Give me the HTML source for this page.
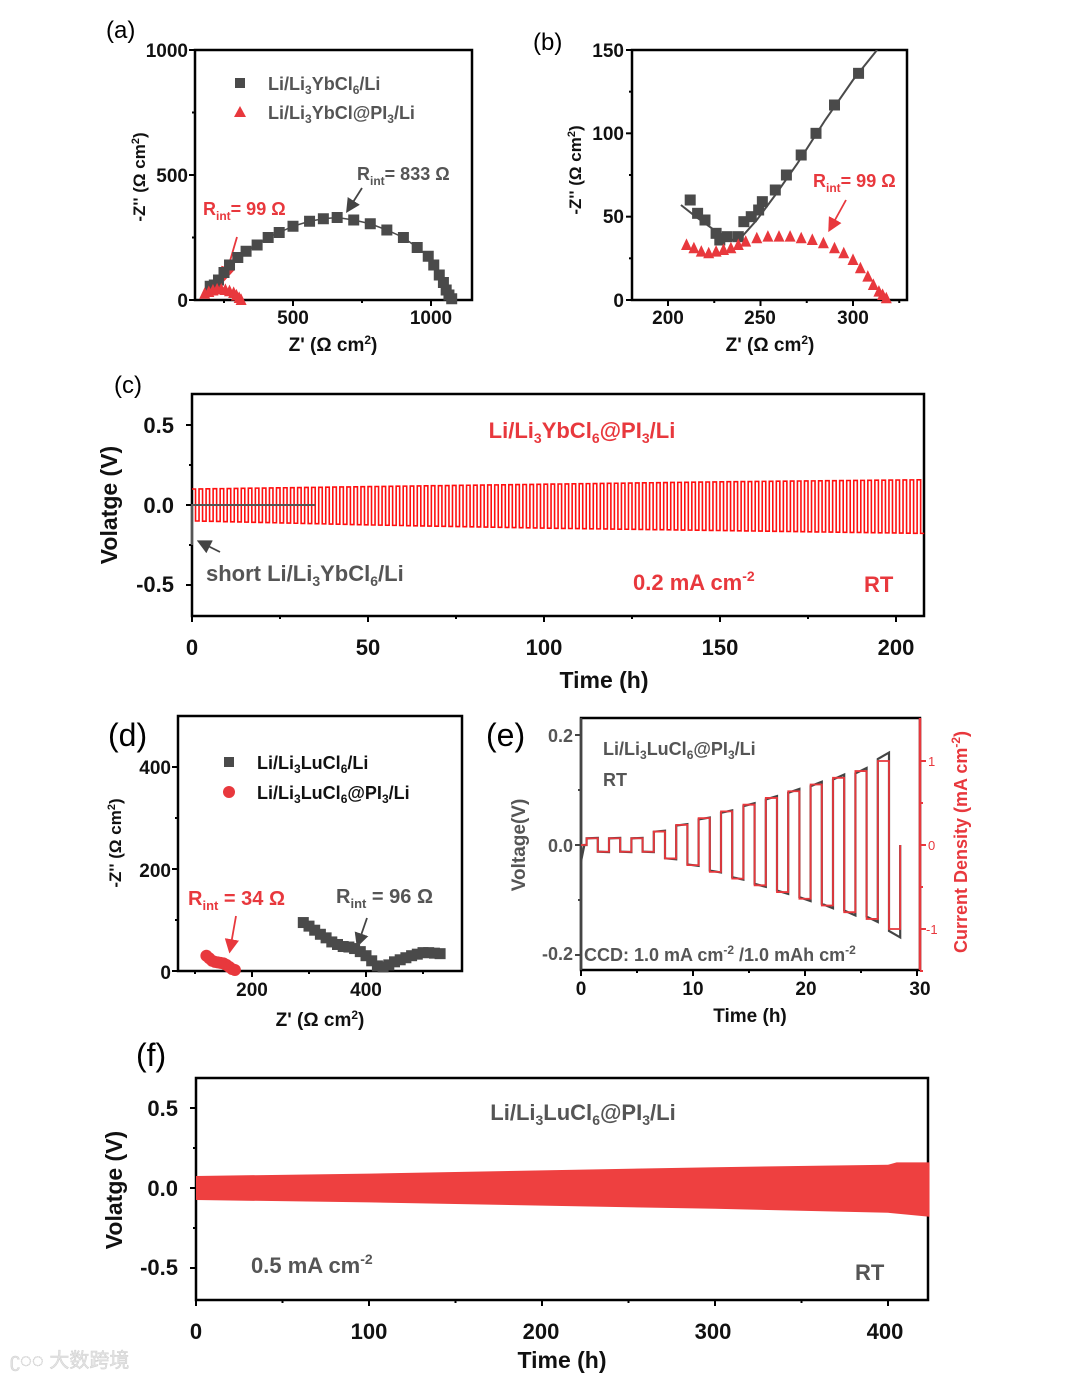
<!DOCTYPE html>
<html><head><meta charset="utf-8"><style>
html,body{margin:0;padding:0;background:#fff;}
svg{display:block;font-family:"Liberation Sans","Noto Sans CJK SC",sans-serif;}
.t{font-weight:bold;fill:#111;}
.g{fill:#555;font-weight:bold;}
.r{fill:#e8383d;font-weight:bold;}
</style></head><body>
<svg id="fig" width="1080" height="1379" viewBox="0 0 1080 1379" font-size="19">
<defs>
<marker id="ag" markerWidth="8" markerHeight="8" refX="6" refY="4" orient="auto"><path d="M0,0 L8,4 L0,8 z" fill="#444"/></marker>
<marker id="ar" markerWidth="8" markerHeight="8" refX="6" refY="4" orient="auto"><path d="M0,0 L8,4 L0,8 z" fill="#e8383d"/></marker>
</defs>
<text x="106" y="38" font-size="24">(a)</text>
<text x="533" y="50" font-size="24">(b)</text>
<text x="114" y="393" font-size="24">(c)</text>
<text x="108" y="746" font-size="32">(d)</text>
<text x="486" y="746" font-size="32">(e)</text>
<text x="136" y="1066" font-size="32">(f)</text>

<g>
<text class="t" x="188" y="57" text-anchor="end">1000</text>
<text class="t" x="188" y="182" text-anchor="end">500</text>
<text class="t" x="188" y="307" text-anchor="end">0</text>
<text class="t" x="293" y="324" text-anchor="middle">500</text>
<text class="t" x="431" y="324" text-anchor="middle">1000</text>
<text class="t" x="333" y="351" text-anchor="middle">Z' (Ω cm<tspan font-size="12" dy="-7">2</tspan><tspan dy="7">)</tspan></text>
<text class="t" transform="translate(145,177) rotate(-90)" text-anchor="middle" font-size="17">-Z'' (Ω cm<tspan font-size="11" dy="-6">2</tspan><tspan dy="6">)</tspan></text>
<rect x="235" y="78" width="10" height="10" fill="#4a4a4a"/>
<text class="g" x="268" y="90" font-size="18">Li/Li<tspan font-size="12" dy="4">3</tspan><tspan dy="-4">YbCl</tspan><tspan font-size="12" dy="4">6</tspan><tspan dy="-4">/Li</tspan></text>
<path d="M240,106 L246,117 L234,117 z" fill="#e8383d"/>
<text class="g" x="268" y="119" font-size="18">Li/Li<tspan font-size="12" dy="4">3</tspan><tspan dy="-4">YbCl@PI</tspan><tspan font-size="12" dy="4">3</tspan><tspan dy="-4">/Li</tspan></text>
<text class="g" x="357" y="180" font-size="18">R<tspan font-size="12" dy="5">int</tspan><tspan dy="-5">= 833 Ω</tspan></text>
<line x1="362" y1="188" x2="348" y2="210" stroke="#444" stroke-width="1.8" marker-end="url(#ag)"/>
<text class="r" x="203" y="215" font-size="18">R<tspan font-size="12" dy="5">int</tspan><tspan dy="-5">= 99 Ω</tspan></text>
<line x1="237" y1="237" x2="225" y2="278" stroke="#e8383d" stroke-width="1.8" marker-end="url(#ar)"/>
</g>

<g>
<text class="t" x="624" y="57" text-anchor="end">150</text>
<text class="t" x="624" y="140" text-anchor="end">100</text>
<text class="t" x="624" y="223" text-anchor="end">50</text>
<text class="t" x="624" y="307" text-anchor="end">0</text>
<text class="t" x="668" y="324" text-anchor="middle">200</text>
<text class="t" x="760" y="324" text-anchor="middle">250</text>
<text class="t" x="853" y="324" text-anchor="middle">300</text>
<text class="t" x="770" y="351" text-anchor="middle">Z' (Ω cm<tspan font-size="12" dy="-7">2</tspan><tspan dy="7">)</tspan></text>
<text class="t" transform="translate(581,170) rotate(-90)" text-anchor="middle" font-size="17">-Z'' (Ω cm<tspan font-size="11" dy="-6">2</tspan><tspan dy="6">)</tspan></text>
<text class="r" x="813" y="187" font-size="18">R<tspan font-size="12" dy="5">int</tspan><tspan dy="-5">= 99 Ω</tspan></text>
<line x1="846" y1="200" x2="830" y2="229" stroke="#e8383d" stroke-width="1.8" marker-end="url(#ar)"/>
</g>

<g>
<text class="t" x="174" y="433" text-anchor="end" font-size="22">0.5</text>
<text class="t" x="174" y="513" text-anchor="end" font-size="22">0.0</text>
<text class="t" x="174" y="592" text-anchor="end" font-size="22">-0.5</text>
<text class="t" x="192" y="655" text-anchor="middle" font-size="22">0</text>
<text class="t" x="368" y="655" text-anchor="middle" font-size="22">50</text>
<text class="t" x="544" y="655" text-anchor="middle" font-size="22">100</text>
<text class="t" x="720" y="655" text-anchor="middle" font-size="22">150</text>
<text class="t" x="896" y="655" text-anchor="middle" font-size="22">200</text>
<text class="t" x="604" y="688" text-anchor="middle" font-size="23">Time (h)</text>
<text class="t" transform="translate(117,505) rotate(-90)" text-anchor="middle" font-size="23">Volatge (V)</text>
<text class="r" x="582" y="438" text-anchor="middle" font-size="22">Li/Li<tspan font-size="14" dy="5">3</tspan><tspan dy="-5">YbCl</tspan><tspan font-size="14" dy="5">6</tspan><tspan dy="-5">@PI</tspan><tspan font-size="14" dy="5">3</tspan><tspan dy="-5">/Li</tspan></text>
<text class="g" x="206" y="581" font-size="22">short  Li/Li<tspan font-size="14" dy="5">3</tspan><tspan dy="-5">YbCl</tspan><tspan font-size="14" dy="5">6</tspan><tspan dy="-5">/Li</tspan></text>
<line x1="220" y1="552" x2="200" y2="542" stroke="#444" stroke-width="1.8" marker-end="url(#ag)"/>
<text class="r" x="633" y="590" font-size="22">0.2 mA cm<tspan font-size="14" dy="-9">-2</tspan></text>
<text class="r" x="864" y="592" font-size="22">RT</text>
</g>

<g>
<text class="t" x="171" y="774" text-anchor="end">400</text>
<text class="t" x="171" y="877" text-anchor="end">200</text>
<text class="t" x="171" y="979" text-anchor="end">0</text>
<text class="t" x="252" y="996" text-anchor="middle">200</text>
<text class="t" x="366" y="996" text-anchor="middle">400</text>
<text class="t" x="320" y="1026" text-anchor="middle">Z' (Ω cm<tspan font-size="12" dy="-7">2</tspan><tspan dy="7">)</tspan></text>
<text class="t" transform="translate(121,843) rotate(-90)" text-anchor="middle" font-size="17">-Z'' (Ω cm<tspan font-size="11" dy="-6">2</tspan><tspan dy="6">)</tspan></text>
<rect x="224" y="757" width="10" height="10" fill="#4a4a4a"/>
<text class="t" x="257" y="769" font-size="18">Li/Li<tspan font-size="12" dy="4">3</tspan><tspan dy="-4">LuCl</tspan><tspan font-size="12" dy="4">6</tspan><tspan dy="-4">/Li</tspan></text>
<circle cx="229" cy="792" r="6" fill="#e8383d"/>
<text class="t" x="257" y="799" font-size="18">Li/Li<tspan font-size="12" dy="4">3</tspan><tspan dy="-4">LuCl</tspan><tspan font-size="12" dy="4">6</tspan><tspan dy="-4">@PI</tspan><tspan font-size="12" dy="4">3</tspan><tspan dy="-4">/Li</tspan></text>
<text class="r" x="188" y="905" font-size="20">R<tspan font-size="13" dy="5">int</tspan><tspan dy="-5"> = 34 Ω</tspan></text>
<line x1="236" y1="916" x2="230" y2="950" stroke="#e8383d" stroke-width="1.8" marker-end="url(#ar)"/>
<text class="g" x="336" y="903" font-size="20">R<tspan font-size="13" dy="5">int</tspan><tspan dy="-5"> = 96 Ω</tspan></text>
<line x1="367" y1="918" x2="358" y2="944" stroke="#444" stroke-width="1.8" marker-end="url(#ag)"/>
</g>

<g>
<text class="g" x="573" y="742" text-anchor="end" font-size="18">0.2</text>
<text class="g" x="573" y="852" text-anchor="end" font-size="18">0.0</text>
<text class="g" x="573" y="960" text-anchor="end" font-size="18">-0.2</text>
<text x="928" y="766" font-size="13" fill="#e8383d">1</text>
<text x="928" y="850" font-size="13" fill="#e8383d">0</text>
<text x="926" y="934" font-size="13" fill="#e8383d">-1</text>
<text class="t" x="581" y="995" text-anchor="middle">0</text>
<text class="t" x="693" y="995" text-anchor="middle">10</text>
<text class="t" x="806" y="995" text-anchor="middle">20</text>
<text class="t" x="920" y="995" text-anchor="middle">30</text>
<text class="t" x="750" y="1022" text-anchor="middle">Time (h)</text>
<text class="g" transform="translate(525,845) rotate(-90)" text-anchor="middle" font-size="19">Voltage(V)</text>
<text class="r" transform="translate(967,842) rotate(-90)" text-anchor="middle" font-size="18">Current Density (mA cm<tspan font-size="12" dy="-7">-2</tspan><tspan dy="7">)</tspan></text>
<text class="g" x="603" y="755" font-size="18">Li/Li<tspan font-size="12" dy="4">3</tspan><tspan dy="-4">LuCl</tspan><tspan font-size="12" dy="4">6</tspan><tspan dy="-4">@PI</tspan><tspan font-size="12" dy="4">3</tspan><tspan dy="-4">/Li</tspan></text>
<text class="g" x="603" y="786" font-size="18">RT</text>
<text class="g" x="584" y="961" font-size="18">CCD: 1.0 mA cm<tspan font-size="12" dy="-7">-2</tspan><tspan dy="7"> /1.0 mAh cm</tspan><tspan font-size="12" dy="-7">-2</tspan></text>
</g>

<g>
<text class="t" x="178" y="1116" text-anchor="end" font-size="22">0.5</text>
<text class="t" x="178" y="1196" text-anchor="end" font-size="22">0.0</text>
<text class="t" x="178" y="1275" text-anchor="end" font-size="22">-0.5</text>
<text class="t" x="196" y="1339" text-anchor="middle" font-size="22">0</text>
<text class="t" x="369" y="1339" text-anchor="middle" font-size="22">100</text>
<text class="t" x="541" y="1339" text-anchor="middle" font-size="22">200</text>
<text class="t" x="713" y="1339" text-anchor="middle" font-size="22">300</text>
<text class="t" x="885" y="1339" text-anchor="middle" font-size="22">400</text>
<text class="t" x="562" y="1368" text-anchor="middle" font-size="23">Time (h)</text>
<text class="t" transform="translate(122,1190) rotate(-90)" text-anchor="middle" font-size="23">Volatge (V)</text>
<text class="g" x="583" y="1120" text-anchor="middle" font-size="22">Li/Li<tspan font-size="14" dy="5">3</tspan><tspan dy="-5">LuCl</tspan><tspan font-size="14" dy="5">6</tspan><tspan dy="-5">@PI</tspan><tspan font-size="14" dy="5">3</tspan><tspan dy="-5">/Li</tspan></text>
<text class="g" x="251" y="1273" font-size="22">0.5 mA cm<tspan font-size="14" dy="-9">-2</tspan></text>
<text class="g" x="855" y="1280" font-size="22">RT</text>
</g>
<text x="10" y="1367" font-size="20" fill="#e4e4e4" stroke="#d0d0d0" stroke-width="0.5">ʗ◌◌ 大数跨境</text>
<g id="marks"></g>
</svg>
<script>
// ---------- data ----------
const aGrayX=[200,215,230,250,270,300,330,370,410,450,500,560,610,660,720,780,840,900,950,990,1010,1030,1045,1055,1065,1075];
const aGrayY=[55,60,80,110,140,170,195,220,250,270,295,315,325,330,320,305,280,250,210,175,140,100,70,40,20,5];
const aRedX=[180,195,210,225,240,255,270,285,295,305,312];
const aRedY=[25,32,38,42,42,40,35,28,18,8,0];
const bGrayX=[212,216,220,226,228,232,238,241,245,249,251,258,264,272,280,290,303];
const bGrayY=[60,52,48,40,36,38,38,47,50,54,59,66,75,87,100,117,136];
const bFitX=[207,215,225,235,240,248,258,270,285,300,313];
const bFitY=[57,50,42,36,38,48,63,82,108,132,150];
const bRedX=[210,214,218,222,226,230,234,238,242,248,254,260,266,272,278,284,290,295,300,304,308,311,314,316,318];
const bRedY=[33,31,29,28,29,30,31,33,35,37,38,38,38,37,36,34,31,28,24,19,14,9,5,3,1];
const cTimes=[0,50,100,150,208];
const cUpper=[0.10,0.115,0.13,0.145,0.158];
const cLower=[-0.10,-0.125,-0.145,-0.16,-0.178];
const cPeriod=2;
const cShortEnd=35;
const dGrayX=[290,300,310,320,330,340,350,360,370,380,390,400,410,420,430,440,450,460,470,480,490,500,510,520,530];
const dGrayY=[95,88,80,72,65,57,52,48,47,44,38,30,20,10,8,12,18,22,26,30,33,36,36,35,34];
const dRedX=[120,125,130,135,140,145,150,155,160,165,170];
const dRedY=[30,25,20,18,17,16,15,12,8,4,2];
const eCurrent=[0.08,0.08,0.08,0.16,0.24,0.32,0.40,0.48,0.56,0.64,0.72,0.80,0.88,1.0];
const eVoltage=[0.013,0.013,0.013,0.026,0.038,0.05,0.063,0.076,0.089,0.102,0.115,0.128,0.14,0.168];
const eStart=0.5, eHalf=1.0;
const fTimes=[0,100,200,300,400,405,424];
const fUpper=[0.075,0.09,0.11,0.13,0.145,0.16,0.16];
const fLower=[-0.075,-0.09,-0.11,-0.13,-0.155,-0.16,-0.18];

// ---------- helpers ----------
const NS='http://www.w3.org/2000/svg';
const root=document.getElementById('marks');
function mk(tag,attrs,parent){const e=document.createElementNS(NS,tag);for(const k in attrs)e.setAttribute(k,attrs[k]);(parent||root).appendChild(e);return e;}
function lin(d0,d1,p0,p1){return v=>p0+(v-d0)*(p1-p0)/(d1-d0);}
function interp(xs,ys,x){for(let i=1;i<xs.length;i++){if(x<=xs[i]){const t=(x-xs[i-1])/(xs[i]-xs[i-1]);return ys[i-1]+t*(ys[i]-ys[i-1]);}}return ys[ys.length-1];}
function frame(x0,y0,x1,y1,name,opts){
  opts=opts||{};
  const g=mk('g',{});
  
  
  mk('rect',{x:x0,y:y0,width:x1-x0,height:y1-y0,fill:'none',stroke:'#000','stroke-width':2.5},g);
  if(opts.leftColor) mk('line',{x1:x0,y1:y0,x2:x0,y2:y1,stroke:opts.leftColor,'stroke-width':2.5},g);
  if(opts.rightColor) mk('line',{x1:x1,y1:y0,x2:x1,y2:y1,stroke:opts.rightColor,'stroke-width':2.5},g);
  (opts.xt||[]).forEach(p=>mk('line',{x1:p[0],y1:y1,x2:p[0],y2:y1+(p[1]?6:3),stroke:'#000','stroke-width':2},g));
  (opts.yt||[]).forEach(p=>mk('line',{x1:x0,y1:p[0],x2:x0-(p[1]?6:3),y2:p[0],stroke:opts.leftColor||'#000','stroke-width':2},g));
  (opts.y2t||[]).forEach(p=>mk('line',{x1:x1,y1:p[0],x2:x1+(p[1]?6:3),y2:p[0],stroke:opts.rightColor,'stroke-width':2},g));
  return g;
}
function ticks(sc,vals,major){return vals.map((v,i)=>[sc(v),major(i)]);}
function sq(g,x,y,s,c,n){const r=mk('rect',{x:x-s/2,y:y-s/2,width:s,height:s,fill:c},g);}
function tri(g,x,y,s,c,n){const p=mk('path',{d:`M${x},${y-s*0.6} L${x+s/2},${y+s*0.45} L${x-s/2},${y+s*0.45} z`,fill:c},g);}
function circ(g,x,y,r,c,n){const p=mk('circle',{cx:x,cy:y,r:r,fill:c},g);}
const GRAY='#4a4a4a', RED='#e8383d';

// (a)
{const X=lin(0,500,155,293),Y=lin(0,500,300,175);
 frame(195,50,472,300,'plot-area-a',{xt:ticks(X,[250,500,750,1000],i=>i%2==1),yt:ticks(Y,[0,250,500,750,1000],i=>i%2==0)});
 const g=mk('g',{});
 mk('polyline',{points:aGrayX.map((x,i)=>X(x)+','+Y(aGrayY[i])).join(' '),fill:'none',stroke:GRAY,'stroke-width':1.5},g);
 aGrayX.forEach((x,i)=>sq(g,X(x),Y(aGrayY[i]),11,GRAY,'point-a-gray'));
 aRedX.forEach((x,i)=>tri(g,X(x),Y(aRedY[i]),11,RED,'point-a-red'));}
// (b)
{const X=lin(200,300,668,853),Y=lin(0,150,300,50);
 frame(632,50,907,300,'plot-area-b',{xt:ticks(X,[200,225,250,275,300,325],i=>i%2==0),yt:ticks(Y,[0,25,50,75,100,125,150],i=>i%2==0)});
 const g=mk('g',{});
 const cp=mk('clipPath',{id:'cb'},g);mk('rect',{x:632,y:50,width:275,height:250},cp);
 mk('polyline',{points:bFitX.map((x,i)=>X(x)+','+Y(bFitY[i])).join(' '),fill:'none',stroke:GRAY,'stroke-width':2,'clip-path':'url(#cb)'},g);
 bGrayX.forEach((x,i)=>sq(g,X(x),Y(bGrayY[i]),11,GRAY,'point-b-gray'));
 bRedX.forEach((x,i)=>tri(g,X(x),Y(bRedY[i]),11,RED,'point-b-red'));}
// (c)
{const X=lin(0,50,192,368),Y=lin(0,0.5,505,425);
 frame(192,394,924,616,'plot-area-c',{xt:ticks(X,[0,25,50,75,100,125,150,175,200],i=>i%2==0),yt:ticks(Y,[-0.5,-0.25,0,0.25,0.5],i=>i%2==0)});
 const g=mk('g',{});
 let pts=[];const tEnd=cTimes[cTimes.length-1];
 for(let t=0;t<tEnd;t+=cPeriod){
   const u=interp(cTimes,cUpper,t),l=interp(cTimes,cLower,t);
   const t2=Math.min(t+cPeriod/2,tEnd),t3=Math.min(t+cPeriod,tEnd);
   pts.push([t,u],[t2,u],[t2,l],[t3,l]);
 }
 const pl=mk('polyline',{points:pts.map(p=>X(p[0])+','+Y(p[1])).join(' '),fill:'none',stroke:'#ff1010','stroke-width':1.6},g);
 
 const sh=mk('polyline',{points:`${X(0)},${Y(-0.25)} ${X(0)},${Y(0)} ${X(cShortEnd)},${Y(0)}`,fill:'none',stroke:'#555','stroke-width':2},g);
 }
// (d)
{const X=lin(200,400,252,366),Y=lin(0,200,971,869);
 frame(178,716,462,971,'plot-area-d',{xt:ticks(X,[100,200,300,400,500],i=>i%2==1),yt:ticks(Y,[0,100,200,300,400],i=>i%2==0)});
 const g=mk('g',{});
 dGrayX.forEach((x,i)=>sq(g,X(x),Y(dGrayY[i]),11,GRAY,'point-d-gray'));
 dRedX.forEach((x,i)=>circ(g,X(x),Y(dRedY[i]),6,RED,'point-d-red'));}
// (e)
{const X=lin(0,10,581,693),Y=lin(0,0.2,845,735),Y2=lin(0,1,845,761);
 frame(581,718,920,970,'plot-area-e',{leftColor:'#444',rightColor:RED,xt:ticks(X,[0,5,10,15,20,25,30],i=>i%2==0),yt:ticks(Y,[-0.2,-0.1,0,0.1,0.2],i=>i%2==0),y2t:ticks(Y2,[-1.5,-1,-0.5,0,0.5,1],i=>i%2==1)});
 const g=mk('g',{});
 let vp=[[0,-0.03],[0.3,0],[eStart,0]],cp=[[0,0],[eStart,0]];
 eCurrent.forEach((c,i)=>{const t0=eStart+i*2*eHalf,t1=t0+eHalf,t2=t1+eHalf,v=eVoltage[i];
   vp.push([t0,v*0.93],[t1,v],[t1,-v*0.93],[t2,-v]);
   cp.push([t0,c],[t1,c],[t1,-c],[t2,-c]);});
 const tl=eStart+eCurrent.length*2*eHalf;vp.push([tl,0]);cp.push([tl,0]);
 const v=mk('polyline',{points:vp.map(p=>X(p[0])+','+Y(p[1])).join(' '),fill:'none',stroke:'#444','stroke-width':2.2},g);
 
 const c=mk('polyline',{points:cp.map(p=>X(p[0])+','+Y2(p[1])).join(' '),fill:'none',stroke:RED,'stroke-width':1.8},g);
 }
// (f)
{const X=lin(0,100,196,369),Y=lin(0,0.5,1188,1108);
 frame(196,1078,928,1300,'plot-area-f',{xt:ticks(X,[0,50,100,150,200,250,300,350,400],i=>i%2==0),yt:ticks(Y,[-0.5,-0.25,0,0.25,0.5],i=>i%2==0)});
 const g=mk('g',{});
 const up=fTimes.map((t,i)=>X(t)+','+Y(fUpper[i])),lo=fTimes.map((t,i)=>X(t)+','+Y(fLower[i])).reverse();
 const b=mk('polygon',{points:up.concat(lo).join(' '),fill:'#ee4040'},g);
 }
</script>
</body></html>
